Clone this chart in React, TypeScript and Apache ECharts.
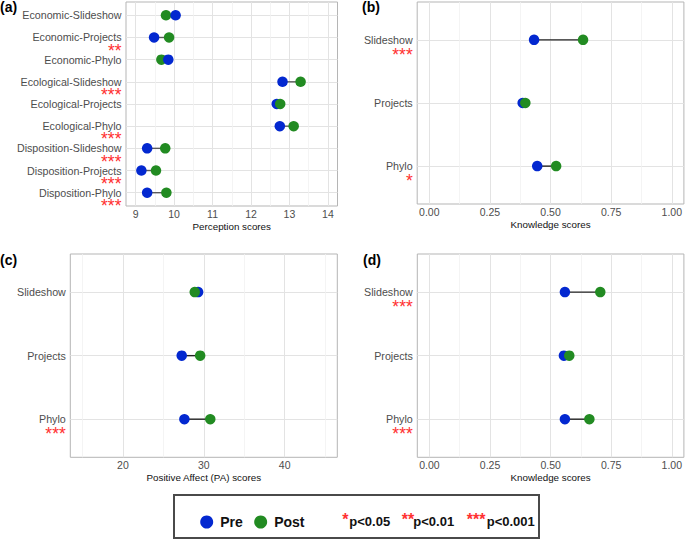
import React, { useEffect, useRef } from 'react';
import * as echarts from 'echarts';

// ---------- data ----------
const catsA = [
  'Economic-Slideshow', 'Economic-Projects', 'Economic-Phylo',
  'Ecological-Slideshow', 'Ecological-Projects', 'Ecological-Phylo',
  'Disposition-Slideshow', 'Disposition-Projects', 'Disposition-Phylo',
];
const preA = [10.04, 9.48, 9.85, 12.82, 12.67, 12.75, 9.30, 9.15, 9.30];
const postA = [9.79, 9.87, 9.67, 13.29, 12.76, 13.11, 9.77, 9.53, 9.80];
const sigA = ['', '**', '', '***', '', '***', '***', '***', '***'];
const preTopA = [true, true, true, false, false, false, false, false, false];

const catsB = ['Slideshow', 'Projects', 'Phylo'];
const preB = [0.432, 0.385, 0.445];
const postB = [0.634, 0.396, 0.523];
const sigB = ['***', '', '*'];

const catsC = ['Slideshow', 'Projects', 'Phylo'];
const preC = [29.3, 27.27, 27.6];
const postC = [28.88, 29.55, 30.8];
const sigC = ['', '', '***'];

const catsD = ['Slideshow', 'Projects', 'Phylo'];
const preD = [0.559, 0.555, 0.559];
const postD = [0.705, 0.577, 0.66];
const sigD = ['***', '', '***'];

const panelTags = ['(a)', '(b)', '(c)', '(d)'];
const axisNames = ['Perception scores', 'Knowledge scores', 'Positive Affect (PA) scores', 'Knowledge scores'];
const pLabels = ['p<0.05', 'p<0.01', 'p<0.001'];
const pStars = ['*', '**', '***'];
const legendNames = ['Pre', 'Post'];

// ---------- styles ----------
const FONT = 'Liberation Sans, Arial, Helvetica, sans-serif';
const BLUE = '#0328d0';
const GREEN = '#228B22';
const RED = '#ff3030';
const GRAY_TXT = '#4d4d4d';
const MAJOR = '#e3e3e3';
const MINOR = '#f1f1f1';

type Panel = {
  cats: string[]; pre: number[]; post: number[]; sig: string[]; preTop: boolean[];
  grid: { left: number; top: number; width: number; height: number };
  data: [number, number];
  label: { min: number; max: number; split: number; fmt: (v: number) => string };
  minor: { min: number; max: number; split: number };
  name: string; lineColor: string; starLH: number;
};

const fmtQuarter = (v: number) => (v / 4).toFixed(2);
const fmtPlain = (v: number) => String(Math.round(v * 1000) / 1000);

const panels: Panel[] = [
  {
    cats: catsA, pre: preA, post: postA, sig: sigA, preTop: preTopA,
    grid: { left: 126, top: 2, width: 211.5, height: 204 },
    data: [8.75, 14.25],
    label: { min: 8.75, max: 14.25, split: 5, fmt: fmtPlain },
    minor: { min: 9.25, max: 14.75, split: 5 },
    name: axisNames[0], lineColor: '#5a5a5a', starLH: 14.5,
  },
  {
    cats: catsB, pre: preB, post: postB, sig: sigB, preTop: catsB.map(() => false),
    grid: { left: 417.2, top: 2, width: 268, height: 202 },
    data: [-0.05, 1.05],
    label: { min: -0.2, max: 4.2, split: 4, fmt: fmtQuarter },
    minor: { min: 0.3, max: 4.7, split: 4 },
    name: axisNames[1], lineColor: '#222222', starLH: 18.5,
  },
  {
    cats: catsC, pre: preC, post: postC, sig: sigC, preTop: catsC.map(() => false),
    grid: { left: 70.3, top: 254, width: 267, height: 203.3 },
    data: [13.5, 46.5],
    label: { min: 13.5, max: 46.5, split: 3, fmt: fmtPlain },
    minor: { min: 18.5, max: 51.5, split: 3 },
    name: axisNames[2], lineColor: '#222222', starLH: 17,
  },
  {
    cats: catsD, pre: preD, post: postD, sig: sigD, preTop: catsD.map(() => false),
    grid: { left: 417.3, top: 254, width: 268, height: 203.3 },
    data: [-0.05, 1.05],
    label: { min: -0.2, max: 4.2, split: 4, fmt: fmtQuarter },
    minor: { min: 0.3, max: 4.7, split: 4 },
    name: axisNames[3], lineColor: '#222222', starLH: 17,
  },
];

function buildOption() {
  const grid: any[] = [];
  const xAxis: any[] = [];
  const yAxis: any[] = [];
  const series: any[] = [];

  panels.forEach((p, k) => {
    grid.push({ ...p.grid, show: true, borderColor: '#b5b5b5', borderWidth: 1, backgroundColor: 'transparent' });
    // data axis (hidden)
    xAxis.push({ type: 'value', gridIndex: k, min: p.data[0], max: p.data[1], show: false });
    // label / major grid axis
    xAxis.push({
      type: 'value', gridIndex: k, min: p.label.min, max: p.label.max, splitNumber: p.label.split,
      position: 'bottom',
      axisLine: { show: false }, axisTick: { show: false },
      axisLabel: {
        show: true, margin: 2, color: GRAY_TXT, fontSize: 10.5, fontFamily: FONT,
        formatter: p.label.fmt, showMinLabel: false, showMaxLabel: false,
      },
      splitLine: { show: true, showMinLine: false, showMaxLine: false, lineStyle: { color: MAJOR, width: 1 } },
      name: p.name, nameLocation: 'middle', nameGap: 15.5,
      nameTextStyle: { color: '#111', fontSize: 9.8, fontFamily: FONT },
    });
    // minor grid axis
    xAxis.push({
      type: 'value', gridIndex: k, min: p.minor.min, max: p.minor.max, splitNumber: p.minor.split,
      position: 'top',
      axisLine: { show: false }, axisTick: { show: false }, axisLabel: { show: false },
      splitLine: { show: true, showMinLine: false, showMaxLine: false, lineStyle: { color: MINOR, width: 0.8 } },
    });
    const n = p.cats.length;
    yAxis.push({
      type: 'value', gridIndex: k, inverse: true, min: -0.6, max: n - 0.4, splitNumber: n,
      axisLine: { show: false }, axisTick: { show: false },
      splitLine: { show: true, showMinLine: false, showMaxLine: false, lineStyle: { color: MAJOR, width: 1 } },
      axisLabel: {
        show: true, margin: 4.5, fontFamily: FONT, showMinLabel: false, showMaxLabel: false,
        formatter: (v: number) => {
          const i = Math.round(v);
          if (Math.abs(v - i) > 1e-6 || i < 0 || i >= n) return '';
          return p.sig[i]
            ? `{e| }\n{n|${p.cats[i]}}\n{s|${p.sig[i]}}`
            : `{n|${p.cats[i]}}`;
        },
        rich: {
          e: { fontSize: 8, lineHeight: p.starLH, align: 'right' },
          n: { fontSize: 10.7, lineHeight: 12, color: GRAY_TXT, fontFamily: FONT, align: 'right' },
          s: { fontSize: 17.5, lineHeight: p.starLH, color: RED, fontFamily: FONT, align: 'right' },
        },
      },
    });

    const xi = k * 3;
    series.push({
      type: 'custom', xAxisIndex: xi, yAxisIndex: k, z: 2, silent: true,
      data: p.cats.map((_, i) => [p.pre[i], p.post[i], i]),
      encode: { x: [0, 1], y: 2 },
      renderItem: (_params: any, api: any) => {
        const a = api.coord([api.value(0), api.value(2)]);
        const b = api.coord([api.value(1), api.value(2)]);
        return {
          type: 'line',
          shape: { x1: a[0], y1: a[1], x2: b[0], y2: b[1] },
          style: { stroke: p.lineColor, lineWidth: 1.4 },
        };
      },
    });
    const scatterBase = { type: 'scatter', xAxisIndex: xi, yAxisIndex: k, symbol: 'circle', symbolSize: 10.5, silent: true };
    series.push({
      ...scatterBase, name: legendNames[0], z: 3, itemStyle: { color: BLUE, opacity: 1 },
      data: p.pre.map((v, i) => [v, i]).filter((_, i) => !p.preTop[i]),
    });
    series.push({
      ...scatterBase, name: legendNames[1], z: 4, itemStyle: { color: GREEN, opacity: 1 },
      data: p.post.map((v, i) => [v, i]),
    });
    series.push({
      ...scatterBase, name: legendNames[0], z: 5, itemStyle: { color: BLUE, opacity: 1 },
      data: p.pre.map((v, i) => [v, i]).filter((_, i) => p.preTop[i]),
    });
  });

  const tagPos = [[0, 0], [362, 0], [0, 252.5], [363, 252.5]];
  const graphic: any[] = panelTags.map((t, i) => ({
    type: 'text', x: tagPos[i][0], y: tagPos[i][1],
    style: { text: t, fill: '#000', font: `bold 14px ${FONT}`, align: 'left', verticalAlign: 'top' },
  }));
  graphic.push({
    type: 'rect', shape: { x: 174, y: 495, width: 365, height: 43 },
    style: { fill: 'none', stroke: '#4a4a4a', lineWidth: 2 }, z: -1,
  });
  const starX = [342.3, 401.7, 466.7];
  const pX = [349.3, 413.3, 486.7];
  pStars.forEach((s, i) => {
    graphic.push({
      type: 'text', x: starX[i], y: 519,
      style: { text: s, fill: RED, font: `bold 16px ${FONT}`, align: 'left', verticalAlign: 'middle' },
    });
    graphic.push({
      type: 'text', x: pX[i], y: 521.7,
      style: { text: pLabels[i], fill: '#111', font: `bold 13px ${FONT}`, align: 'left', verticalAlign: 'middle' },
    });
  });

  return {
    animation: false,
    backgroundColor: '#ffffff',
    textStyle: { fontFamily: FONT },
    grid, xAxis, yAxis, series, graphic,
    legend: {
      data: legendNames, left: 195.2, top: 510, orient: 'horizontal',
      icon: 'circle', itemWidth: 13, itemHeight: 13, itemGap: 11.4, selectedMode: false,
      textStyle: { fontSize: 14, fontWeight: 'bold', color: '#111', fontFamily: FONT, padding: [0, 0, 0, 2] },
    },
  };
}

export default function App() {
  const ref = useRef<HTMLDivElement>(null);
  useEffect(() => {
    if (!ref.current) return;
    const chart = echarts.init(ref.current, undefined, { renderer: 'svg' });
    chart.setOption(buildOption() as any);
    return () => chart.dispose();
  }, []);
  return (
    <div
      ref={ref}
      style={{ position: 'absolute', left: 0, top: 0, width: 685, height: 539, background: '#fff' }}
    />
  );
}
